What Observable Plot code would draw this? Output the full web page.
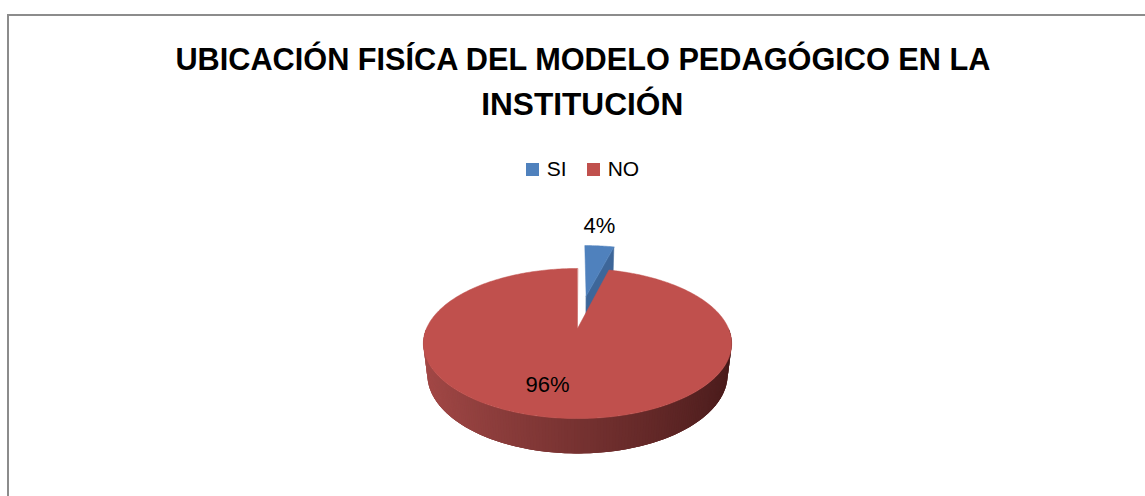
<!DOCTYPE html>
<html>
<head>
<meta charset="utf-8">
<script src="https://cdn.jsdelivr.net/npm/d3@7"></script>
<script src="https://cdn.jsdelivr.net/npm/@observablehq/plot@0.6"></script>
<style>
  html, body { margin: 0; padding: 0; background: #fff; }
  body { width: 1145px; height: 496px; overflow: hidden; position: relative; font-family: "Liberation Sans", Arial, sans-serif; }
  #frame { position: absolute; left: 7px; top: 14px; width: 1170px; height: 520px; border-left: 2px solid #8c8c8c; border-top: 2px solid #8c8c8c; }
  .title { position: absolute; left: 0; width: 1165px; text-align: center; font-weight: bold; font-size: 32px; color: #000; white-space: nowrap; line-height: 1; font-family: "Liberation Sans Narrow", "Liberation Sans", Arial, sans-serif; }
  .title span { display: inline-block; transform-origin: center; }
  #legend { position: absolute; top: 157px; left: 0; width: 1165px; text-align: center; font-size: 21px; white-space: nowrap; }
  #legend .sw { display: inline-block; width: 13px; height: 13px; vertical-align: 0px; margin-right: 8px; }
  #legend .item { margin: 0 10px; }
  #chart { position: absolute; left: 0; top: 196px; }
</style>
</head>
<body>
<div id="frame"></div>
<div class="title" id="t1" style="top:43px"><span>UBICACIÓN FISÍCA DEL MODELO PEDAGÓGICO EN LA</span></div>
<div class="title" id="t2" style="top:88px"><span>INSTITUCIÓN</span></div>
<div id="legend"></div>
<div id="chart"></div>
<script>
// ---- data ----
const categories = ["SI", "NO"];
const values = [4, 96];
const labels = ["4%", "96%"];

// ---- styling ----
const palette = { SI: "#4f81bd", NO: "#c0504d" };
const cutPalette = { SI: "#3d6699", NO: "#8f3a38" };
const explode = { SI: 0.5, NO: 0 };
const labelOffset = { SI: { r: 1.0, dx: 0, dy: -20 }, NO: { r: 0.6, dx: -17, dy: 8 } };

// legend
const legend = document.getElementById("legend");
categories.forEach(c => {
  const s = document.createElement("span");
  s.className = "item";
  s.innerHTML = `<span class="sw" style="background:${palette[c]}"></span>${c}`;
  legend.appendChild(s);
});

// perspective projection of the 3D pie (unit radius, thickness H)
const S = 663, ca = 0.879, sa = 0.477, D = 4.39, H = 0.234;
function proj(u, v, z) {
  const den = D - v * ca - z * sa;
  return [S * u / den, S * (v * sa - z * ca) / den];
}

const arcs = d3.pie().sort(null).value(d => d)(values);
const tops = [], sides = [], sideBase = [], cuts = [], labelRows = [];
arcs.forEach((a, i) => {
  const cat = categories[i];
  const mid = (a.startAngle + a.endAngle) / 2;
  const e = explode[cat];
  const ox = e * Math.sin(mid), oy = -e * Math.cos(mid);
  const pt = (t, r, z) => proj(ox + r * Math.sin(t), oy - r * Math.cos(t), z);
  // top face
  const N = Math.max(8, Math.ceil((a.endAngle - a.startAngle) / (Math.PI / 180)));
  const [ax, ay] = pt(0, 0, 0);
  tops.push({ id: cat, cat, x: ax, y: ay });
  for (let k = 0; k <= N; k++) {
    const t = a.startAngle + (a.endAngle - a.startAngle) * k / N;
    const [x, y] = pt(t, 1, 0);
    tops.push({ id: cat, cat, x, y });
  }
  // outer side wall (front half only)
  const step = Math.PI / 180;
  const lo = Math.max(a.startAngle, Math.PI / 2), hi = Math.min(a.endAngle, 3 * Math.PI / 2);
  if (hi > lo) {
    // base band (fills any seams between the shading strips)
    for (let t = lo; t <= hi + 1e-9; t += step) { const [x, y] = pt(Math.min(t, hi), 1, 0); sideBase.push({ id: cat, cat, x, y, c: 0 }); }
    for (let t = hi; t >= lo - 1e-9; t -= step) { const [x, y] = pt(Math.max(t, lo), 1, -H); sideBase.push({ id: cat, cat, x, y, c: 0 }); }
    for (let t = hi; t > lo + 1e-9; t -= step) {
      const t1 = Math.max(t - 2 * step, lo);
      const c = Math.sin(t - step / 2);
      const id = cat + "-s" + t.toFixed(4);
      [[t1, 0], [t, 0], [t, -H], [t1, -H]].forEach(([tt, z]) => {
        const [x, y] = pt(tt, 1, z);
        sides.push({ id, cat, c, x, y });
      });
    }
  }
  // radial cut faces
  [[a.endAngle, Math.sin(a.endAngle)], [a.startAngle, -Math.sin(a.startAngle)]].forEach(([t, vis], j) => {
    if (vis > 0.01 && (a.endAngle - a.startAngle) < 2 * Math.PI - 1e-6) {
      const id = cat + "-c" + j;
      [[0, 0], [1, 0], [1, -H], [0, -H]].forEach(([r, z]) => {
        const [x, y] = pt(t, r, z);
        cuts.push({ id, cat, x, y });
      });
    }
  });
  // label
  const lo2 = labelOffset[cat];
  const [lx, ly] = pt(mid, lo2.r, 0);
  labelRows.push({ cat, text: labels[i], x: lx + lo2.dx, y: ly + lo2.dy });
});

// paint far slice (SI) first, then near slice (NO)
const order = ["SI", "NO"];
const marks = [];
order.forEach(cat => {
  marks.push(Plot.line(cuts.filter(d => d.cat === cat), { x: "x", y: "y", z: "id", fill: cutPalette[cat], stroke: cutPalette[cat], strokeWidth: 0.5, curve: "linear-closed" }));
  marks.push(Plot.line(sideBase.filter(d => d.cat === cat), { x: "x", y: "y", z: "id", fill: "c", stroke: "none", curve: "linear-closed" }));
  marks.push(Plot.line(sides.filter(d => d.cat === cat), { x: "x", y: "y", z: "id", fill: "c", stroke: "none", curve: "linear-closed" }));
  marks.push(Plot.line(tops.filter(d => d.cat === cat), { x: "x", y: "y", z: "id", fill: palette[cat], stroke: palette[cat], strokeWidth: 0.5, curve: "linear-closed" }));
});
marks.push(Plot.text(labelRows, { x: "x", y: "y", text: "text", fontSize: 22, fill: "#000", fontFamily: "Liberation Sans, Arial, sans-serif" }));

const cx = 577, cy = 328, top0 = 196, W = 1145, Hh = 300;
const chart = Plot.plot({
  width: W, height: Hh,
  margin: 0,
  x: { domain: [-cx, W - cx], axis: null },
  y: { domain: [top0 + Hh - cy, top0 - cy], axis: null },
  color: { type: "linear", domain: [-1, 1], range: ["#a64a48", "#471a1a"] },
  style: { background: "transparent", overflow: "visible" },
  marks
});
document.getElementById("chart").appendChild(chart);

// fit title widths to the reference's measured line widths
const fit = [["t1", 815], ["t2", 202]];
fit.forEach(([id, w]) => {
  const sp = document.querySelector("#" + id + " span");
  const cur = sp.getBoundingClientRect().width;
  sp.style.transform = `scaleX(${w / cur})`;
});
</script>
</body>
</html>
